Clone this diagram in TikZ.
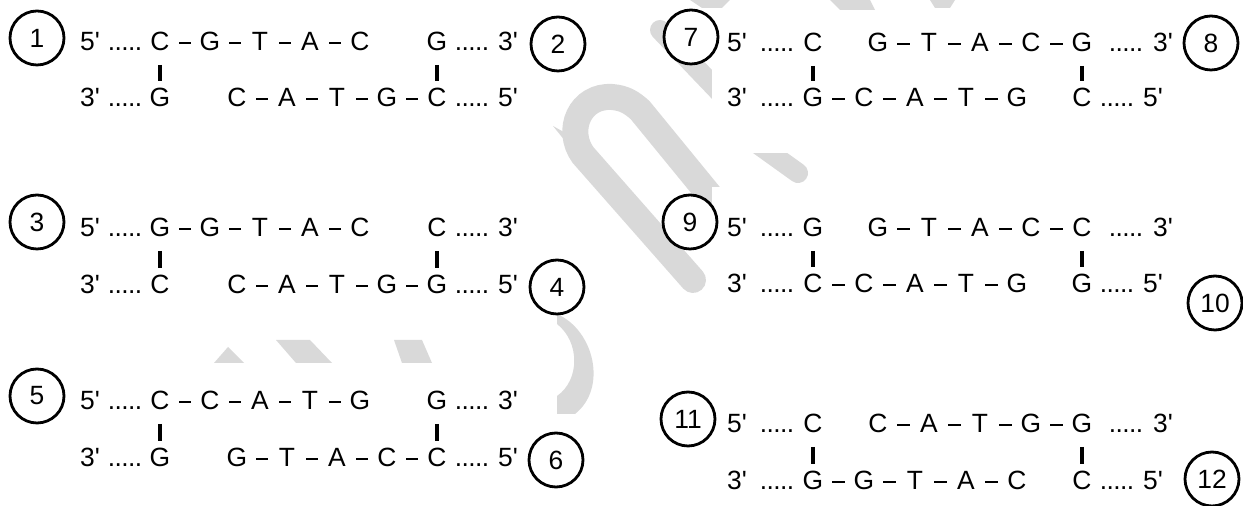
\documentclass[tikz,border=0pt]{standalone}
\usepackage{fontspec}
\newfontfamily\dnafont{Liberation Sans}
\newcommand\leaderdots{.\kern-0.3pt.\kern-0.3pt.\kern-0.3pt.\kern-0.3pt.}
\begin{document}
\begin{tikzpicture}[x=0.5pt,y=-0.5pt,
    every node/.style={font=\dnafont\fontsize{13.2}{15}\selectfont},
    nuc/.style={inner sep=0pt,minimum width=13pt,text height=9.4pt,text depth=2pt},
    strandend/.style={inner sep=0pt,text height=9.4pt,text depth=2pt},
    numcirc/.style={circle,draw,fill=white,line width=1.4pt,minimum size=27pt,inner sep=0pt},
    bond/.style={line width=0.75pt,shorten <=3pt,shorten >=3pt},
    pairbar/.style={line width=1.8pt,shorten <=5pt,shorten >=3pt},
    wm/.style={black!15,line width=13pt}]
\useasboundingbox (0,0) rectangle (1243,506);

% watermark, partly hidden behind the text boxes
\draw[wm,line cap=round] (693,280) -- (583,155) .. controls (565,130) and (580,95) .. (612,97)
    .. controls (625,98) and (632,103) .. (640,110) -- (775,275);
\fill[black!15] (553,126) -- (578,140) -- (574,152) -- cycle;
\draw[wm,line width=10pt,line cap=round] (660,30) -- (725,98);
\draw[wm,line width=10pt,line cap=round] (752,140) -- (798,173);
\fill[black!15] (557,314) .. controls (594,330) and (608,388) .. (575,414) -- (557,414)
    -- (557,396) .. controls (580,380) and (580,342) .. (557,324) -- cycle;
\fill[black!15] (214,363) -- (228,347) -- (244,363) -- cycle;
\fill[black!15] (276,340) -- (310,340) -- (332,363) -- (296,363) -- cycle;
\fill[black!15] (394,340) -- (422,340) -- (432,363) -- (402,363) -- cycle;
\fill[black!15] (690,0) -- (730,0) -- (722,8) -- (702,8) -- cycle;
\fill[black!15] (830,0) -- (870,0) -- (875,10) -- (840,10) -- cycle;
\fill[black!15] (930,0) -- (955,0) -- (950,8) -- (935,8) -- cycle;
\fill[white] (712,10) rectangle (1243,153);
\fill[white] (712,187) rectangle (1243,506);

% panel 1 / 2
\node[numcirc] (c1) at (37,38) {1};
\node[numcirc] (c2) at (558,44) {2};
\foreach \b [count=\k from 0] in {C,G,T,A,C} \node[nuc] (t1-\k) at (160+50*\k,43) {\b};
\node[nuc] (t1-x) at (437,43) {G};
\foreach \b [count=\k from 0] in {C,G,T,A,C} \node[nuc] (b1-\k) at (437-50*\k,99) {\b};
\node[nuc] (b1-x) at (160,99) {G};
\node[strandend] (t1-p) at (90,43) {5'}; \node[strandend] (t1-d) at (125,43) {\leaderdots};
\node[strandend] (t1-q) at (508,43) {3'}; \node[strandend] (t1-e) at (472,43) {\leaderdots};
\node[strandend] (b1-p) at (90,99) {3'}; \node[strandend] (b1-d) at (125,99) {\leaderdots};
\node[strandend] (b1-q) at (508,99) {5'}; \node[strandend] (b1-e) at (472,99) {\leaderdots};
\foreach \i [evaluate=\i as \j using int(\i+1)] in {0,...,3} {
  \draw[bond] (t1-\i) -- (t1-\j);
  \draw[bond] (b1-\i) -- (b1-\j);
}
\draw[pairbar] (t1-0) -- (b1-x);
\draw[pairbar] (t1-x) -- (b1-0);

% panel 3 / 4
\node[numcirc] (c3) at (37,222) {3};
\node[numcirc] (c4) at (557,287) {4};
\foreach \b [count=\k from 0] in {G,G,T,A,C} \node[nuc] (t3-\k) at (160+50*\k,229) {\b};
\node[nuc] (t3-x) at (437,229) {C};
\foreach \b [count=\k from 0] in {G,G,T,A,C} \node[nuc] (b3-\k) at (437-50*\k,286) {\b};
\node[nuc] (b3-x) at (160,286) {C};
\node[strandend] (t3-p) at (90,229) {5'}; \node[strandend] (t3-d) at (125,229) {\leaderdots};
\node[strandend] (t3-q) at (508,229) {3'}; \node[strandend] (t3-e) at (472,229) {\leaderdots};
\node[strandend] (b3-p) at (90,286) {3'}; \node[strandend] (b3-d) at (125,286) {\leaderdots};
\node[strandend] (b3-q) at (508,286) {5'}; \node[strandend] (b3-e) at (472,286) {\leaderdots};
\foreach \i [evaluate=\i as \j using int(\i+1)] in {0,...,3} {
  \draw[bond] (t3-\i) -- (t3-\j);
  \draw[bond] (b3-\i) -- (b3-\j);
}
\draw[pairbar] (t3-0) -- (b3-x);
\draw[pairbar] (t3-x) -- (b3-0);

% panel 5 / 6
\node[numcirc] (c5) at (37,396) {5};
\node[numcirc] (c6) at (556,460) {6};
\foreach \b [count=\k from 0] in {C,C,A,T,G} \node[nuc] (t5-\k) at (160+50*\k,402) {\b};
\node[nuc] (t5-x) at (437,402) {G};
\foreach \b [count=\k from 0] in {C,C,A,T,G} \node[nuc] (b5-\k) at (437-50*\k,459) {\b};
\node[nuc] (b5-x) at (160,459) {G};
\node[strandend] (t5-p) at (90,402) {5'}; \node[strandend] (t5-d) at (125,402) {\leaderdots};
\node[strandend] (t5-q) at (508,402) {3'}; \node[strandend] (t5-e) at (472,402) {\leaderdots};
\node[strandend] (b5-p) at (90,459) {3'}; \node[strandend] (b5-d) at (125,459) {\leaderdots};
\node[strandend] (b5-q) at (508,459) {5'}; \node[strandend] (b5-e) at (472,459) {\leaderdots};
\foreach \i [evaluate=\i as \j using int(\i+1)] in {0,...,3} {
  \draw[bond] (t5-\i) -- (t5-\j);
  \draw[bond] (b5-\i) -- (b5-\j);
}
\draw[pairbar] (t5-0) -- (b5-x);
\draw[pairbar] (t5-x) -- (b5-0);

% panel 7 / 8
\node[numcirc] (c7) at (691,37) {7};
\node[numcirc] (c8) at (1211,43) {8};
\foreach \b [count=\k from 0] in {G,C,A,T,G} \node[nuc] (t7-\k) at (1082-51*\k,44) {\b};
\node[nuc] (t7-x) at (813,44) {C};
\foreach \b [count=\k from 0] in {G,C,A,T,G} \node[nuc] (b7-\k) at (813+51*\k,99) {\b};
\node[nuc] (b7-x) at (1082,99) {C};
\node[strandend] (t7-p) at (737,44) {5'}; \node[strandend] (t7-d) at (777,44) {\leaderdots};
\node[strandend] (t7-q) at (1163,44) {3'}; \node[strandend] (t7-e) at (1126,44) {\leaderdots};
\node[strandend] (b7-p) at (737,99) {3'}; \node[strandend] (b7-d) at (777,99) {\leaderdots};
\node[strandend] (b7-q) at (1153,99) {5'}; \node[strandend] (b7-e) at (1117,99) {\leaderdots};
\foreach \i [evaluate=\i as \j using int(\i+1)] in {0,...,3} {
  \draw[bond] (t7-\i) -- (t7-\j);
  \draw[bond] (b7-\i) -- (b7-\j);
}
\draw[pairbar] (t7-x) -- (b7-0);
\draw[pairbar] (t7-0) -- (b7-x);

% panel 9 / 10
\node[numcirc] (c9) at (690,222) {9};
\node[numcirc] (c10) at (1215,303) {10};
\foreach \b [count=\k from 0] in {C,C,A,T,G} \node[nuc] (t9-\k) at (1082-51*\k,229) {\b};
\node[nuc] (t9-x) at (813,229) {G};
\foreach \b [count=\k from 0] in {C,C,A,T,G} \node[nuc] (b9-\k) at (813+51*\k,285) {\b};
\node[nuc] (b9-x) at (1082,285) {G};
\node[strandend] (t9-p) at (737,229) {5'}; \node[strandend] (t9-d) at (777,229) {\leaderdots};
\node[strandend] (t9-q) at (1163,229) {3'}; \node[strandend] (t9-e) at (1126,229) {\leaderdots};
\node[strandend] (b9-p) at (737,285) {3'}; \node[strandend] (b9-d) at (777,285) {\leaderdots};
\node[strandend] (b9-q) at (1153,285) {5'}; \node[strandend] (b9-e) at (1117,285) {\leaderdots};
\foreach \i [evaluate=\i as \j using int(\i+1)] in {0,...,3} {
  \draw[bond] (t9-\i) -- (t9-\j);
  \draw[bond] (b9-\i) -- (b9-\j);
}
\draw[pairbar] (t9-x) -- (b9-0);
\draw[pairbar] (t9-0) -- (b9-x);

% panel 11 / 12
\node[numcirc] (c11) at (688,419) {11};
\node[numcirc] (c12) at (1212,479) {12};
\foreach \b [count=\k from 0] in {G,G,T,A,C} \node[nuc] (t11-\k) at (1082-51*\k,425) {\b};
\node[nuc] (t11-x) at (813,425) {C};
\foreach \b [count=\k from 0] in {G,G,T,A,C} \node[nuc] (b11-\k) at (813+51*\k,482) {\b};
\node[nuc] (b11-x) at (1082,482) {C};
\node[strandend] (t11-p) at (737,425) {5'}; \node[strandend] (t11-d) at (777,425) {\leaderdots};
\node[strandend] (t11-q) at (1163,425) {3'}; \node[strandend] (t11-e) at (1126,425) {\leaderdots};
\node[strandend] (b11-p) at (737,482) {3'}; \node[strandend] (b11-d) at (777,482) {\leaderdots};
\node[strandend] (b11-q) at (1153,482) {5'}; \node[strandend] (b11-e) at (1117,482) {\leaderdots};
\foreach \i [evaluate=\i as \j using int(\i+1)] in {0,...,3} {
  \draw[bond] (t11-\i) -- (t11-\j);
  \draw[bond] (b11-\i) -- (b11-\j);
}
\draw[pairbar] (t11-x) -- (b11-0);
\draw[pairbar] (t11-0) -- (b11-x);
\end{tikzpicture}
\end{document}
